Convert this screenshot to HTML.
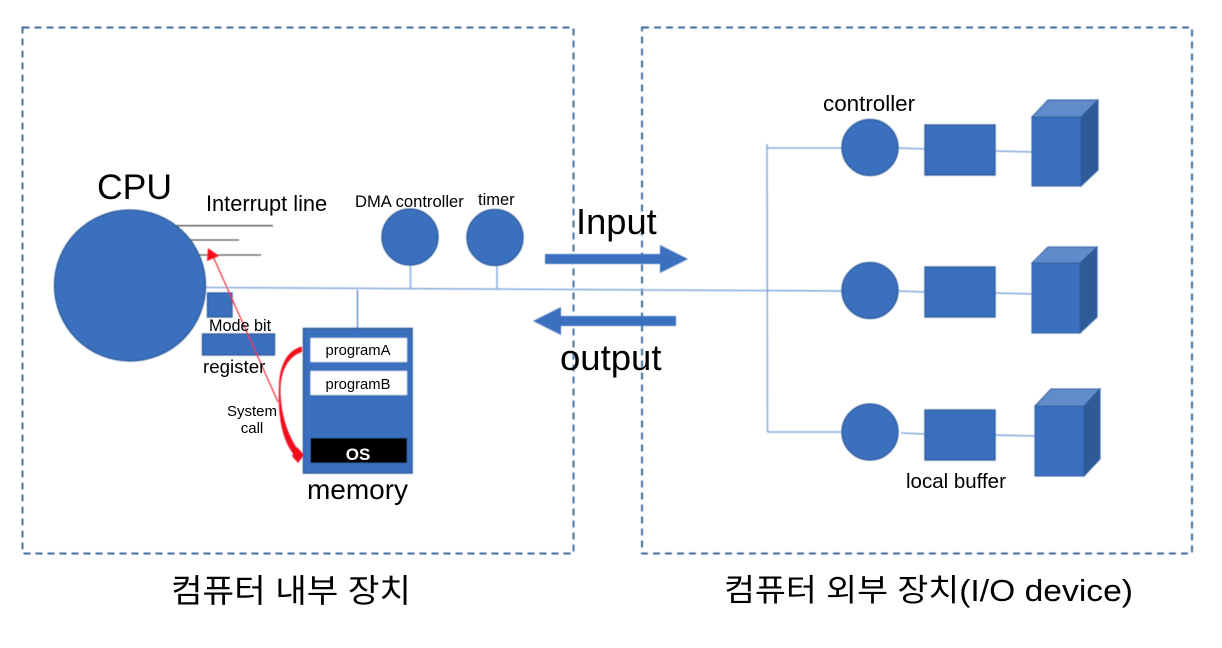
<!DOCTYPE html>
<html><head><meta charset="utf-8"><style>
html,body{margin:0;padding:0;background:#fff;width:1222px;height:648px;overflow:hidden}
svg{display:block}
text{font-family:"Liberation Sans","Noto Sans CJK KR",sans-serif;fill:#000}
</style></head><body>
<svg width="1222" height="648" viewBox="0 0 1222 648" xmlns="http://www.w3.org/2000/svg">
<defs>
<filter id="b" x="-2%" y="-2%" width="104%" height="104%"><feGaussianBlur stdDeviation="0.4"/></filter>
<filter id="t" x="-2%" y="-2%" width="104%" height="104%"><feGaussianBlur stdDeviation="0.35"/></filter>
</defs>
<rect width="1222" height="648" fill="#fff"/>
<g filter="url(#b)">
<g fill="none" stroke="#22548f" stroke-width="1.7" stroke-dasharray="7 5">
<rect x="22.5" y="27.5" width="551" height="526"/>
<rect x="642" y="27.5" width="550" height="526"/>
</g>
<!-- lines -->
<g stroke="#555" stroke-width="1.3">
<line x1="176" y1="225.7" x2="273" y2="225.7"/>
<line x1="190" y1="240" x2="239" y2="240"/>
<line x1="198" y1="255" x2="261" y2="255"/>
</g>
<g fill="none" stroke="#86a9dd" stroke-width="1.5">
<line x1="206" y1="287.5" x2="842" y2="291"/>
<line x1="767" y1="144" x2="767.5" y2="432"/>
<line x1="767" y1="148" x2="842" y2="148"/>
<line x1="767.5" y1="432" x2="842" y2="432"/>
<line x1="410.5" y1="265" x2="410.5" y2="288"/>
<line x1="497" y1="265" x2="497" y2="289"/>
<line x1="898" y1="148" x2="925" y2="149"/>
<line x1="995" y1="151" x2="1032" y2="152"/>
<line x1="898" y1="291" x2="925" y2="292"/>
<line x1="995" y1="293" x2="1032" y2="294"/>
<line x1="901" y1="433" x2="925" y2="434"/>
<line x1="995" y1="435" x2="1035" y2="436"/>
</g>
<line x1="357.5" y1="290" x2="357.5" y2="328" stroke="#4d78b6" stroke-width="1.2"/>
<!-- shapes -->
<g fill="#3a70bf" stroke="#2b5a98" stroke-width="1.3">
<circle cx="130" cy="285.5" r="75.5"/>
<circle cx="410" cy="237" r="28"/>
<circle cx="495" cy="237.5" r="28"/>
<rect x="207.5" y="293" width="24.5" height="24"/>
<rect x="202.5" y="334" width="72" height="21"/>
<rect x="303.5" y="328.5" width="108.5" height="144.5" stroke-width="1.5"/>
<circle cx="870" cy="147.5" r="28"/>
<circle cx="870" cy="290.5" r="28"/>
<circle cx="870" cy="432" r="28"/>
<rect x="925" y="125" width="70" height="50"/>
<rect x="925" y="267" width="70" height="50"/>
<rect x="925" y="410" width="70" height="50"/>
</g>
<!-- cubes -->
<g stroke="#2f5c9c" stroke-width="1">
<polygon points="1032,117 1048,100 1098,100 1081,117" fill="#608cc9"/>
<polygon points="1081,117 1098,100 1098,170 1081,186" fill="#2d5a98"/>
<rect x="1032" y="117" width="49" height="69" fill="#3a70bf"/>
<polygon points="1032,263 1048,247 1097,247 1080,263" fill="#608cc9"/>
<polygon points="1080,263 1097,247 1097,317 1080,333" fill="#2d5a98"/>
<rect x="1032" y="263" width="48" height="70" fill="#3a70bf"/>
<polygon points="1035,406 1051,389 1100,389 1084,406" fill="#608cc9"/>
<polygon points="1084,406 1100,389 1100,459 1084,476" fill="#2d5a98"/>
<rect x="1035" y="406" width="49" height="70" fill="#3a70bf"/>
</g>
<!-- memory contents -->
<rect x="310.5" y="338" width="96.5" height="24" fill="#fff"/>
<rect x="310.5" y="371" width="96.5" height="24" fill="#fff"/>
<rect x="310.5" y="438" width="96.5" height="25" fill="#000"/>
<!-- red -->
<path d="M302 346.5 C287 350 279.5 366 279 385 C277.5 420 283 446 299 460 L303 456 C292 444 280.5 420 280.5 390 C280.5 370 289 356 302 352 Z" fill="#f00a1e"/>
<polygon points="297,447 304,455 298,463 292,456" fill="#f00a1e"/>
<line x1="278" y1="402" x2="212" y2="254" stroke="#ec1c2c" stroke-width="1.1"/>
<polygon points="208,248 219,256 207,261" fill="#f5101e"/>
<!-- arrows -->
<polygon points="545,254 660,254 660,245 688,259 660,273 660,264 545,264" fill="#3a70bf"/>
<polygon points="676,316 561,316 561,307 533,321 561,335 561,326 676,326" fill="#3a70bf"/>
</g>
<!-- text -->
<g filter="url(#t)">
<text x="97" y="199" font-size="35.5">CPU</text>
<text x="206" y="211" font-size="21.8">Interrupt line</text>
<text x="355" y="207" font-size="16.6">DMA controller</text>
<text x="478" y="205" font-size="16.5">timer</text>
<text x="209" y="331" font-size="16.2">Mode bit</text>
<text x="203" y="373" font-size="18.7">register</text>
<text x="252" y="416" font-size="15" text-anchor="middle">System</text>
<text x="252" y="433" font-size="15" text-anchor="middle">call</text>
<text x="358" y="355" font-size="14.8" text-anchor="middle">programA</text>
<text x="358" y="389" font-size="14.8" text-anchor="middle">programB</text>
<text x="358" y="460" font-size="17" font-weight="bold" text-anchor="middle" style="fill:#fff">OS</text>
<text x="357.5" y="499" font-size="28" text-anchor="middle">memory</text>
<text x="576" y="234" font-size="36.3">Input</text>
<text x="560" y="370" font-size="36.5">output</text>
<text x="823" y="111" font-size="22.4">controller</text>
<text x="906" y="488" font-size="20.5">local buffer</text>
<text x="171" y="602" font-size="32.5" textLength="240" lengthAdjust="spacingAndGlyphs">컴퓨터 내부 장치</text>
<text x="724" y="601" font-size="31" textLength="409" lengthAdjust="spacingAndGlyphs">컴퓨터 외부 장치(I/O device)</text>
</g>
</svg>
</body></html>
